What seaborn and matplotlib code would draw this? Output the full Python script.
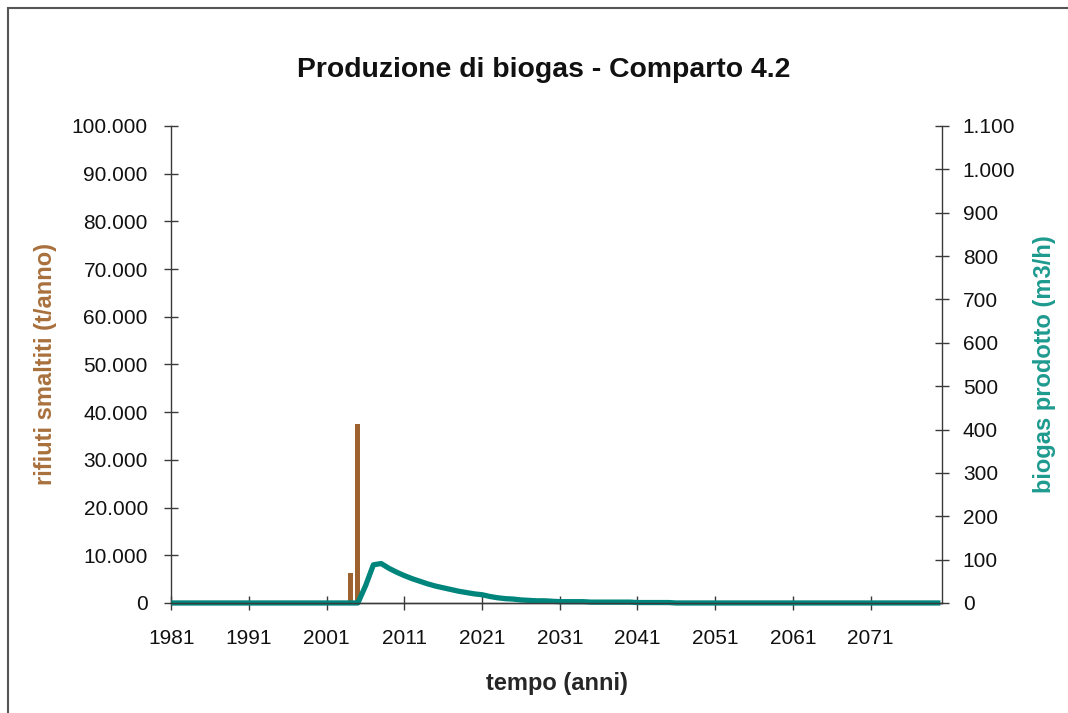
import matplotlib
matplotlib.use('Agg')
import matplotlib.pyplot as plt
import matplotlib.ticker as mticker
from matplotlib.patches import Rectangle
import numpy as np
import pandas as pd
import seaborn as sns

# data
years = list(range(1981, 2081))
waste = {2004: 6300, 2005: 37500}            # t/anno
biogas = {2005: 0, 2006: 40, 2007: 88, 2008: 91, 2009: 80, 2010: 71,
          2011: 63, 2012: 56, 2013: 50, 2014: 44, 2015: 39, 2016: 35,
          2017: 31, 2018: 27, 2019: 24, 2020: 21, 2021: 19, 2022: 15,
          2023: 12, 2024: 10, 2025: 9, 2026: 7, 2027: 6, 2028: 5,
          2029: 5, 2030: 4, 2031: 3, 2032: 3, 2033: 3, 2034: 3,
          2035: 2, 2036: 2, 2037: 2, 2038: 2, 2039: 2, 2040: 2,
          2041: 1, 2042: 1, 2043: 1, 2044: 1, 2045: 1}   # m3/h
xticks = list(range(1981, 2080, 10))
left_ticks = list(range(0, 100001, 10000))
right_ticks = list(range(0, 1101, 100))

df = pd.DataFrame({'anno': years,
                   'rifiuti': [waste.get(y, 0) for y in years],
                   'biogas': [biogas.get(y, 0) for y in years]})

BROWN = '#9E6130'
TEAL = '#00857C'
AXC = '#3a3a3a'

sns.set_style('white')
plt.rcParams['font.family'] = ['Liberation Sans', 'DejaVu Sans']

fig = plt.figure(figsize=(10.68, 7.13), dpi=100)
ax = fig.add_axes([0.1605, 0.1543, 0.7215, 0.669])

bars = df[df['rifiuti'] > 0]
ax.bar(bars['anno'], bars['rifiuti'], width=0.65, color=BROWN, linewidth=0)

ax2 = ax.twinx()
sns.lineplot(data=df, x='anno', y='biogas', color=TEAL, lw=3.8, ax=ax2,
             solid_joinstyle='round', solid_capstyle='butt', clip_on=False)

ax.set_xlim(1981, 2080.2)
ax.set_ylim(0, 100000)
ax2.set_ylim(0, 1100)
ax.set_xticks(xticks)
ax.set_xticklabels([str(x) for x in xticks])
ax.set_yticks(left_ticks)
ax2.set_yticks(right_ticks)
fmt = mticker.FuncFormatter(lambda v, p: f"{int(v):,}".replace(',', '.'))
ax.yaxis.set_major_formatter(fmt)
ax2.yaxis.set_major_formatter(fmt)

for a in (ax, ax2):
    a.spines['top'].set_visible(False)
    for s in ('left', 'right', 'bottom'):
        a.spines[s].set_color(AXC)
        a.spines[s].set_linewidth(1.0)
    a.tick_params(direction='inout', length=10, width=1, color=AXC,
                  labelsize=15, labelcolor='#111111')
ax.tick_params(axis='y', left=True, right=False, pad=12)
ax.tick_params(axis='x', bottom=True, pad=14)
ax2.tick_params(axis='y', right=True, left=False, pad=10)
ax2.spines['left'].set_visible(False)
ax.spines['right'].set_visible(False)

ax.set_xlabel('tempo (anni)', fontsize=17, fontweight='bold', labelpad=17)
ax.set_ylabel('rifiuti smaltiti (t/anno)', fontsize=17, fontweight='bold',
              color='#A8703C')
ax2.set_ylabel('biogas prodotto (m3/h)', fontsize=17, fontweight='bold',
               color='#1E9A8E', labelpad=13)
ax.yaxis.set_label_coords(-0.148, 0.5)
fig.text(0.509, 0.902, 'Produzione di biogas - Comparto 4.2', ha='center',
         va='center', fontsize=20.4, fontweight='bold', color='#111111')

# outer chart frame (cut by the image edge on the right and bottom)
fig.patches.append(Rectangle((8 / 1068, -0.1), 1.2, 1.1 - 8 / 713,
                             transform=fig.transFigure, fill=False,
                             edgecolor='#555555', lw=1.5))

fig.savefig('out.png', dpi=100)
